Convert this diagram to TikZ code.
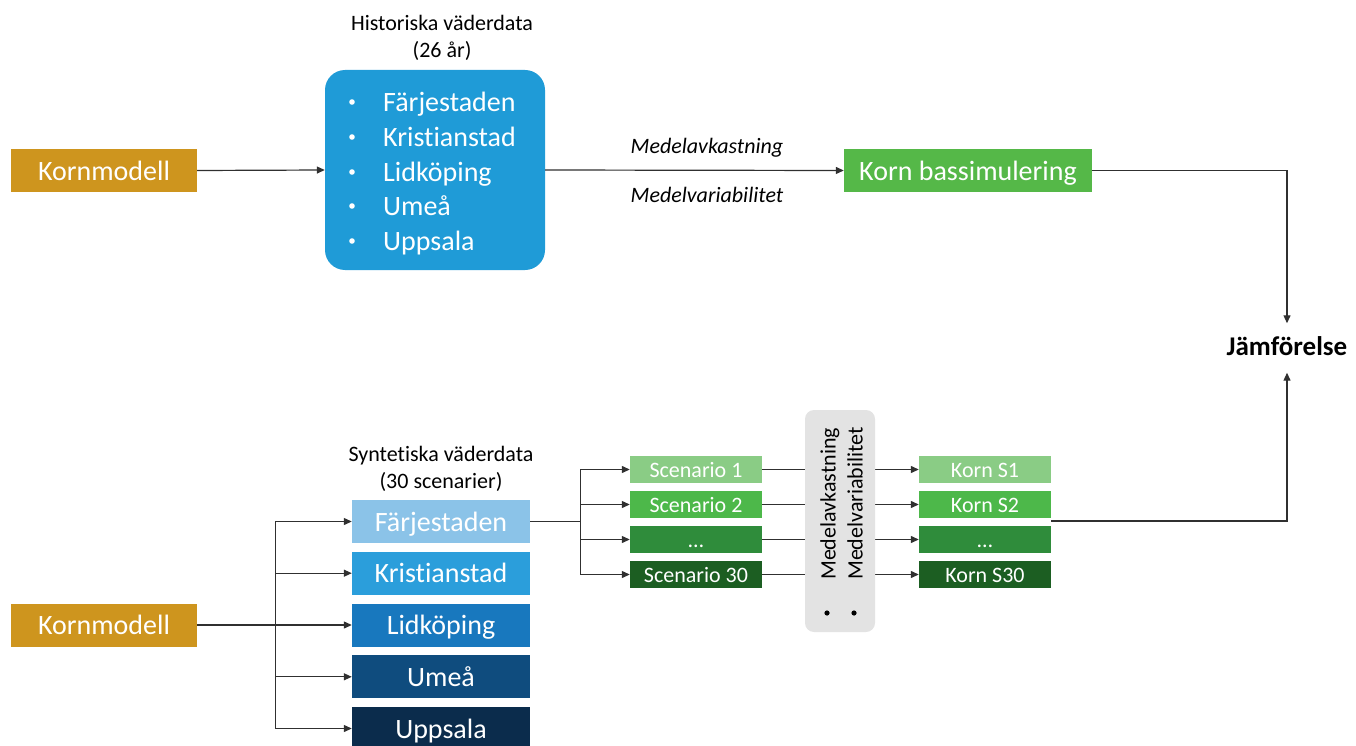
\documentclass[tikz,border=0pt]{standalone}
\usepackage{fontspec}
\setmainfont{Carlito}[Ligatures=NoCommon]
\usetikzlibrary{arrows.meta}
\definecolor{goldc}{HTML}{CE951E}
\definecolor{histc}{HTML}{1F9BD7}
\definecolor{basec}{HTML}{55B848}
\definecolor{bA}{HTML}{8BC3E8}
\definecolor{bB}{HTML}{2B9EDB}
\definecolor{bC}{HTML}{1878BE}
\definecolor{bD}{HTML}{0F4C7E}
\definecolor{bE}{HTML}{0B2C4C}
\definecolor{gA}{HTML}{8ACC85}
\definecolor{gB}{HTML}{4DB84A}
\definecolor{gC}{HTML}{2F8C3B}
\definecolor{gD}{HTML}{1C5E22}
\definecolor{grayc}{HTML}{E3E3E3}
\definecolor{linec}{HTML}{303030}
\begin{document}
\begin{tikzpicture}[x=1pt,y=-1pt,
  bigbox/.style={rectangle, minimum height=43pt, inner sep=0pt, text=white,
    font=\fontsize{28}{30}\selectfont, text height=23.5pt, text depth=4.5pt},
  smallbox/.style={rectangle, minimum width=132pt, minimum height=27pt, inner sep=0pt, text=white,
    font=\fontsize{22}{24}\selectfont, text height=19.3pt, text depth=2.7pt},
  listitem/.style={anchor=west, inner sep=0pt, text=white, font=\fontsize{28}{30}\selectfont,
    text height=23.5pt, text depth=4.5pt},
  lbl/.style={font=\fontsize{22}{27}\selectfont, align=center, inner sep=0pt},
  vlbl/.style={rotate=90, anchor=west, inner sep=0pt, font=\fontsize{22}{24}\selectfont,
    text height=16.5pt, text depth=5.5pt},
  conn/.style={draw=linec, line width=1.2pt},
  arr/.style={conn, -{Triangle[length=8pt,width=7pt]}},
]
\useasboundingbox (0,0) rectangle (1356,746);

% ---------- top row ----------
\node[bigbox, fill=goldc, minimum width=186pt] (km1) at (104,170.5) {Kornmodell};
\node[rectangle, rounded corners=20pt, fill=histc, minimum width=220pt, minimum height=200pt] (hist) at (435,170) {};
\node[lbl] (hhead) at (442,38) {Historiska väderdata\\(26 år)};
\foreach \y/\t/\n in {102/Färjestaden/h1,137/Kristianstad/h2,172/Lidköping/h3,206/Umeå/h4,241/Uppsala/h5}{
  \node[listitem] (\n) at (383,\y) {\t};
  \fill[white] (352,\y) circle (2.8pt);
}
\node[bigbox, fill=basec, minimum width=248pt] (base) at (968,170.5) {Korn bassimulering};
\node[lbl, font=\fontsize{22}{27}\selectfont\itshape] (ma1) at (707,148) {Medelavkastning};
\node[lbl, font=\fontsize{22}{27}\selectfont\itshape] (mv1) at (707,195) {Medelvariabilitet};
\node[inner sep=0pt, minimum height=49pt, font=\fontsize{27}{29}\selectfont\bfseries,
  text height=21pt, text depth=6pt] (jam) at (1287,348) {Jämförelse};

\draw[arr] (km1.east) -- (hist.west);
\draw[arr] (hist.east) -- (base.west);
\draw[arr] (base.east) -| (jam.north);

% ---------- bottom row ----------
\node[bigbox, fill=goldc, minimum width=186pt] (km2) at (104,625) {Kornmodell};
\node[lbl] (shead) at (441,469) {Syntetiska väderdata\\(30 scenarier)};
\node[bigbox, fill=bA, minimum width=178pt] (far) at (441,521.5) {Färjestaden};
\node[bigbox, fill=bB, minimum width=178pt] (kri) at (441,573.2) {Kristianstad};
\node[bigbox, fill=bC, minimum width=178pt] (lid) at (441,625) {Lidköping};
\node[bigbox, fill=bD, minimum width=178pt] (ume) at (441,676.8) {Umeå};
\node[bigbox, fill=bE, minimum width=178pt] (upp) at (441,728.5) {Uppsala};

\path (km2.east) ++(78,0) coordinate (fk);
\draw[arr] (km2.east) -- (lid.west);
\draw[arr] (fk) |- (far.west);
\draw[arr] (fk) |- (kri.west);
\draw[arr] (fk) |- (ume.west);
\draw[arr] (fk) |- (upp.west);

\node[smallbox, fill=gA] (sc1) at (696,469.5) {Scenario 1};
\node[smallbox, fill=gB] (sc2) at (696,504.5) {Scenario 2};
\node[smallbox, fill=gC] (sc3) at (696,539.5) {…};
\node[smallbox, fill=gD] (sc4) at (696,574.5) {Scenario 30};

\node[smallbox, fill=gA] (ks1) at (985,469.5) {Korn S1};
\node[smallbox, fill=gB] (ks2) at (985,504.5) {Korn S2};
\node[smallbox, fill=gC] (ks3) at (985,539.5) {…};
\node[smallbox, fill=gD] (ks4) at (985,574.5) {Korn S30};

\path (far.east) ++(50,0) coordinate (fk2);
\draw[conn] (far.east) -- (fk2);
\draw[arr] (fk2) |- (sc1.west);
\draw[arr] (fk2) |- (sc2.west);
\draw[arr] (fk2) |- (sc3.west);
\draw[arr] (fk2) |- (sc4.west);

\draw[arr] (sc1.east) -- (ks1.west);
\draw[arr] (sc2.east) -- (ks2.west);
\draw[arr] (sc3.east) -- (ks3.west);
\draw[arr] (sc4.east) -- (ks4.west);

% gray statistics box drawn over the connectors
\node[rectangle, rounded corners=9pt, fill=grayc, minimum width=70pt, minimum height=222pt, inner sep=0pt] (stat) at (840,521) {};
\node[vlbl] (ma2) at (830,580) {Medelavkastning};
\node[vlbl] (mv2) at (857,580) {Medelvariabilitet};
\fill[black] (827,613) circle (2.6pt);
\fill[black] (854,613) circle (2.6pt);

\coordinate (kout) at (1051,521);
\draw[arr] (kout) -| (jam.south);
\end{tikzpicture}
\end{document}
